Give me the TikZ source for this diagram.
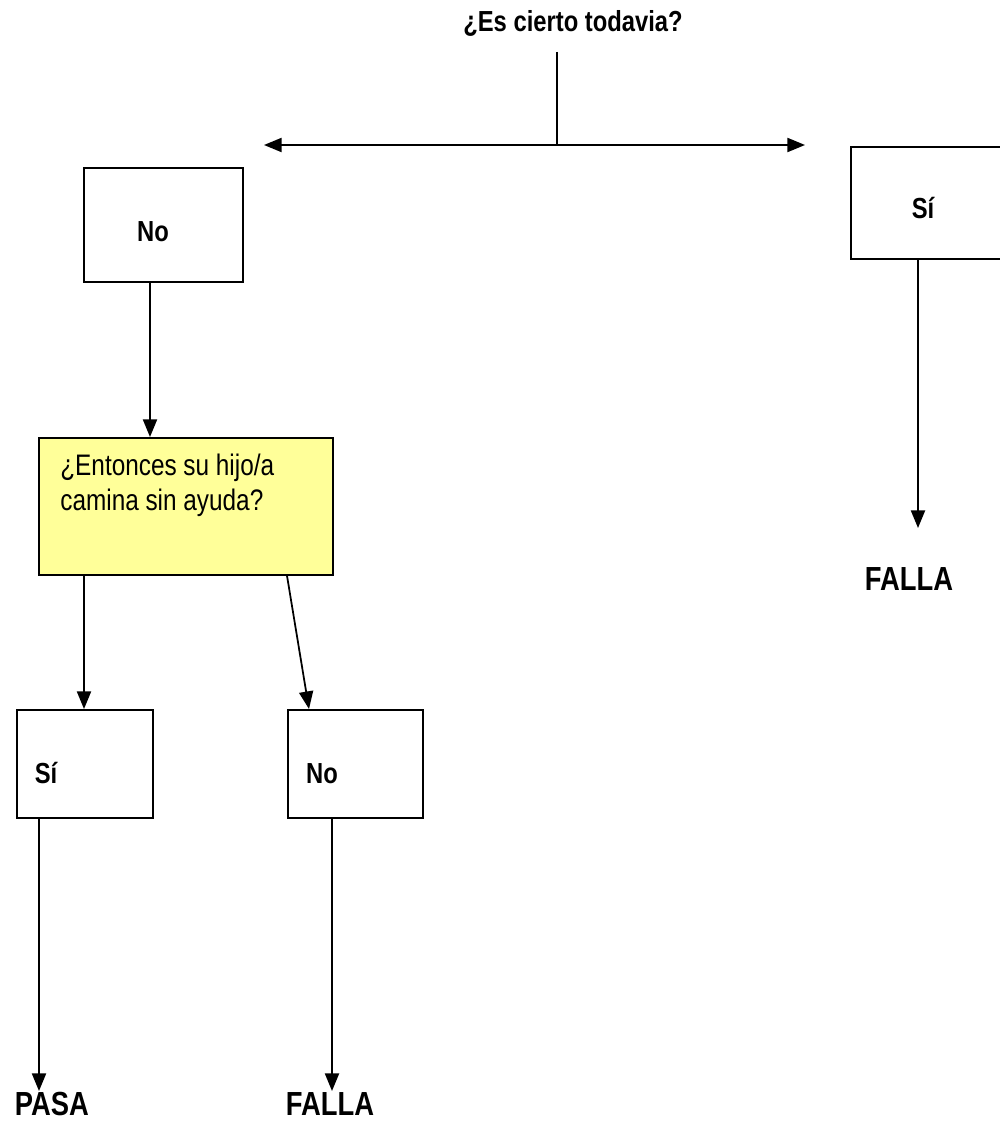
\documentclass[tikz,border=0pt]{standalone}
\usepackage{fontspec}
\setmainfont{Liberation Sans}[FakeStretch=0.82]
\usepackage{xcolor}
\usepackage{tikz}
\usetikzlibrary{arrows.meta}
\usetikzlibrary{positioning}
\definecolor{amarillo}{RGB}{255,255,153}
\tikzstyle{caja}=[
        rectangle,
        draw,
        line width=1pt,
        inner sep=0pt,
        anchor=north west
]
\tikzstyle{pregunta}=[caja,fill=amarillo]
\tikzstyle{etiq}=[font=\bfseries\fontsize{16.5}{19}\selectfont,inner sep=0pt,anchor=base]
\tikzstyle{fin}=[font=\bfseries\fontsize{19}{22}\selectfont,inner sep=0pt,anchor=base]
\tikzstyle{linea}=[line width=1pt]
\tikzstyle{suite}=[-{Triangle[length=10pt,width=8pt]},line width=1pt]
\tikzstyle{doble}=[{Triangle[length=10pt,width=8pt]}-{Triangle[length=10pt,width=8pt]},line width=1pt]

\begin{document}
\begin{tikzpicture}[x=0.02cm,y=-0.02cm]
\useasboundingbox (0,0) rectangle (1000,1122);
\node[etiq] (titulo) at (573,32) {¿Es cierto todavia?};
\coordinate (rama) at (557,52);
\coordinate (cruce) at (557,145);
\coordinate (izq) at (264,145);
\coordinate (der) at (805,145);
\node[caja,minimum width=3.18cm,minimum height=2.28cm] (no1) at (83,167) {};
\node[etiq] (tno1) at (153,241) {No};
\node[caja,minimum width=3.3cm,minimum height=2.24cm] (si1) at (850,146) {};
\node[etiq] (tsi1) at (923,218) {Sí};
\coordinate (fin1) at (918,528);
\node[fin] (falla1) at (909,590) {FALLA};
\node[pregunta,minimum width=5.88cm,minimum height=2.74cm] (camina) at (38,437) {};
\node[anchor=base west,inner sep=0pt,align=left,
      font=\fontsize{16.9}{19.8}\selectfont] (tcamina) at (60,510)
      {¿Entonces su hijo/a\\camina sin ayuda?};
\node[caja,minimum width=2.72cm,minimum height=2.16cm] (si2) at (16,709) {};
\node[etiq] (tsi2) at (46,783) {Sí};
\node[caja,minimum width=2.7cm,minimum height=2.16cm] (no2) at (287,709) {};
\node[etiq] (tno2) at (322,783) {No};
\coordinate (fin2) at (39,1091);
\coordinate (fin3) at (332,1091);
\node[fin] (pasa) at (52,1115) {PASA};
\node[fin] (falla2) at (330,1115) {FALLA};
%Drawing Edges
\draw[linea] (rama) -- (cruce);
\draw[doble] (izq) -- (der);
\draw[suite] (no1.south -| 150,0) -- (camina.north -| 150,0);
\draw[suite] (si1.south -| 918,0) -- (fin1);
\draw[suite] (camina.south -| 84,0) -- (si2.north -| 84,0);
\draw[suite] (camina.south -| 287,0) -- (no2.north -| 309,0);
\draw[suite] (si2.south -| 39,0) -- (fin2);
\draw[suite] (no2.south -| 332,0) -- (fin3);
\end{tikzpicture}
\end{document}
